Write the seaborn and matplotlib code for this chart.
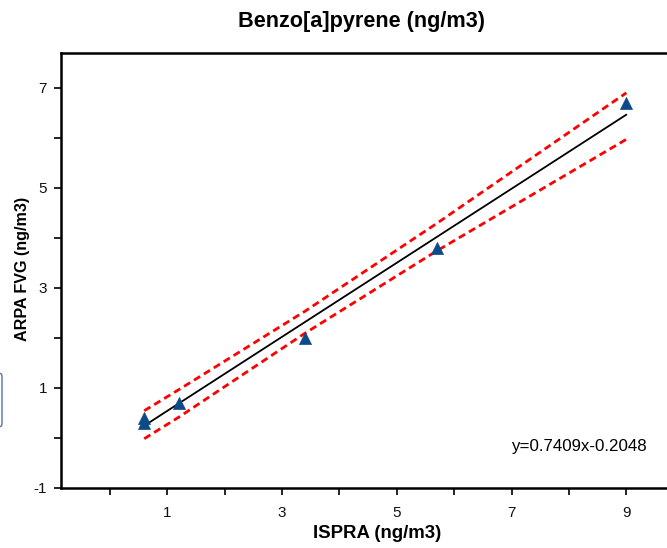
import numpy as np
import pandas as pd
import matplotlib
matplotlib.use("Agg")
import matplotlib.pyplot as plt
from matplotlib.patches import FancyBboxPatch
from matplotlib.ticker import MultipleLocator
import seaborn as sns

# dati
ispra = [0.6, 0.6, 1.2, 3.4, 5.7, 9.0]
arpa = [0.3, 0.4, 0.7, 2.0, 3.8, 6.7]

# retta di regressione
slope = 0.7409
intercept = -0.2048
fit_x = [0.6, 9.0]

# bande di confidenza
band_x = [0.6, 1.2, 3.4, 5.7, 9.0]
band_up = [0.54, 0.96, 2.53, 4.29, 6.90]
band_lo = [-0.02, 0.41, 2.09, 3.74, 5.97]

x_ticks = [1, 3, 5, 7, 9]
y_ticks = [-1, 1, 3, 5, 7]

sns.set_style("ticks")
plt.rcParams['font.family'] = ['Liberation Sans', 'DejaVu Sans']
plt.rcParams['axes.unicode_minus'] = False
plt.rcParams['text.color'] = 'black'
plt.rcParams['axes.labelcolor'] = 'black'

df = pd.DataFrame({"ISPRA": ispra, "ARPA": arpa})
fit = pd.DataFrame({"x": fit_x, "y": [slope * v + intercept for v in fit_x]})
bands = pd.DataFrame({"x": band_x, "up": band_up, "lo": band_lo})

fig = plt.figure(figsize=(6.67, 5.48), dpi=100)
ax = fig.add_axes([61 / 667, 0.110, 0.95, 0.7927])

sns.lineplot(data=bands, x="x", y="up", ax=ax, color="#ff0000", lw=2.0,
             estimator=None, sort=False)
sns.lineplot(data=bands, x="x", y="lo", ax=ax, color="#ff0000", lw=2.0,
             estimator=None, sort=False)
for ln in ax.lines:
    ln.set_linestyle((0, (2.6, 1.6)))
sns.lineplot(data=fit, x="x", y="y", ax=ax, color="black", lw=1.3,
             estimator=None, sort=False)
sns.scatterplot(data=df, x="ISPRA", y="ARPA", ax=ax, marker="^", s=75,
                color="#0d4a8a", edgecolor="#0d4a8a", linewidth=0.5, zorder=5)

ax.set_xlim(-0.85, -0.85 + 0.95 * 667 / 57.4)
ax.set_ylim(-1, 7.69)
ax.set_xticks(x_ticks)
ax.set_yticks(y_ticks)
ax.xaxis.set_minor_locator(MultipleLocator(1))
ax.yaxis.set_minor_locator(MultipleLocator(1))
ax.tick_params(which="both", direction="out", length=5, width=1.2, color="black")
ax.tick_params(axis="x", which="major", labelsize=11, pad=8, labelcolor="#111111")
ax.tick_params(axis="y", which="major", labelsize=11, pad=5, labelcolor="#111111")

for side in ["left", "bottom", "top", "right"]:
    ax.spines[side].set_visible(True)
    ax.spines[side].set_linewidth(1.8)
    ax.spines[side].set_color("black")

ax.set_xlabel("ISPRA (ng/m3)", fontsize=13.4, fontweight="bold")
ax.set_ylabel("ARPA FVG (ng/m3)", fontsize=11.6, fontweight="bold")
ax.xaxis.set_label_coords((377 - 61) / (0.95 * 667), (487.7 - 525) / 434.4)
ax.yaxis.set_label_coords((30 - 61) / (0.95 * 667), (487.7 - 269) / 434.4)
fig.text(362 / 667, 1 - 21 / 548, "Benzo[a]pyrene (ng/m3)", ha="center", va="center",
         fontsize=15.6, fontweight="bold")

ax.text(579 / 667, 1 - 447 / 548, "y=0.7409x-0.2048", transform=fig.transFigure,
        ha="center", va="center", fontsize=12.2)

# riquadro tagliato a sinistra
box = FancyBboxPatch((-0.05, 1 - 427 / 548), 0.053, 54 / 548,
                     boxstyle="round,pad=0,rounding_size=0.006",
                     transform=fig.transFigure, facecolor="none",
                     edgecolor="#4f74a8", lw=1.0, clip_on=False)
fig.patches.append(box)

fig.savefig("out.png", dpi=100)
